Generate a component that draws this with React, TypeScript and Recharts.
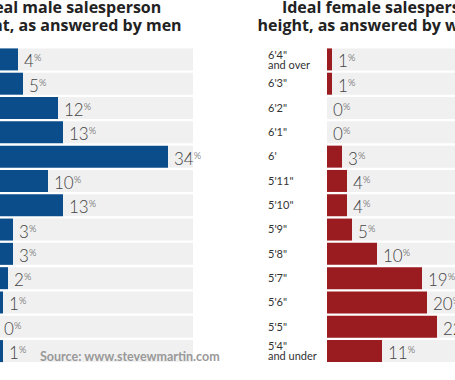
import { BarChart, Bar, XAxis, YAxis, LabelList } from 'recharts';

const maleLabels = [
  '6\'6" and over', '6\'5"', '6\'4"', '6\'3"', '6\'2"', '6\'1"', '6\'',
  '5\'11"', '5\'10"', '5\'9"', '5\'8"', '5\'7"', '5\'6" and under',
];
const maleValues = [4, 5, 12, 13, 34, 10, 13, 3, 3, 2, 1, 0, 1];

const femaleLabels = [
  '6\'4" and over', '6\'3"', '6\'2"', '6\'1"', '6\'', '5\'11"', '5\'10"',
  '5\'9"', '5\'8"', '5\'7"', '5\'6"', '5\'5"', '5\'4" and under',
];
const femaleValues = [1, 1, 0, 0, 3, 4, 4, 5, 10, 19, 20, 22, 11];

const maleTitle = ['Ideal male salesperson', 'height, as answered by men'];
const femaleTitle = ['Ideal female salesperson', 'height, as answered by women'];

const MAX = 39;
const FONT = 'Lato, sans-serif';
const TITLE_FONT = '"Open Sans", sans-serif';

// two-line labels get split on " and "
function HeightTick(props: any) {
  const { y, payload } = props;
  const text: string = payload.value;
  const idx = text.indexOf(' and ');
  if (idx >= 0) {
    return (
      <text x={1} y={y - 0.5} fill="#333" fontFamily={FONT} fontSize={11}>
        <tspan x={1}>{text.slice(0, idx)}</tspan>
        <tspan x={1} dy={10}>{text.slice(idx + 1)}</tspan>
      </text>
    );
  }
  return (
    <text x={1} y={y + 4} fill="#333" fontFamily={FONT} fontSize={11}>
      {text}
    </text>
  );
}

// label sits on the grey remainder bar, so x is where the coloured bar ends
function ValueLabel(props: any) {
  const { x, y, height, value } = props;
  return (
    <text
      x={x + 6}
      y={y + height / 2 + 8}
      fill="#444"
      fontFamily={FONT}
      fontWeight={300}
      fontSize={17}
    >
      {value}
      <tspan fontSize={9.5} dy={-6}>%</tspan>
    </text>
  );
}

interface PanelProps {
  labels: string[];
  values: number[];
  color: string;
  title: string[];
  left: number;
  titleCenter: number;
}

function Panel({ labels, values, color, title, left, titleCenter }: PanelProps) {
  const data = labels.map((label, i) => ({ label, value: values[i], rest: MAX - values[i] }));
  return (
    <div style={{ position: 'absolute', left, top: 0, width: 295, height: 380 }}>
      <div
        style={{
          position: 'absolute',
          left: titleCenter - 160,
          width: 320,
          top: -1,
          textAlign: 'center',
          fontFamily: TITLE_FONT,
          fontWeight: 700,
          fontSize: 16,
          lineHeight: '17.5px',
          color: '#222',
          whiteSpace: 'nowrap',
        }}
      >
        {title[0]}
        <br />
        {title[1]}
      </div>
      <BarChart
        width={295}
        height={380}
        data={data}
        layout="vertical"
        margin={{ top: 47, right: 40, bottom: 17, left: 0 }}
        barCategoryGap={1.4}
      >
        <XAxis type="number" domain={[0, MAX]} hide />
        <YAxis
          type="category"
          dataKey="label"
          width={60}
          axisLine={false}
          tickLine={false}
          interval={0}
          tick={<HeightTick />}
        />
        <Bar dataKey="value" stackId="a" fill={color} isAnimationActive={false} />
        <Bar dataKey="rest" stackId="a" fill="#f0f0f0" isAnimationActive={false}>
          <LabelList dataKey="value" content={ValueLabel} />
        </Bar>
      </BarChart>
    </div>
  );
}

export default function App() {
  return (
    <div
      style={{
        position: 'absolute',
        left: 0,
        top: 0,
        width: 455,
        height: 380,
        overflow: 'hidden',
        background: '#fff',
      }}
    >
      <Panel labels={maleLabels} values={maleValues} color="#0b4d8b" title={maleTitle} left={-62} titleCenter={132} />
      <Panel labels={femaleLabels} values={femaleValues} color="#9a1b20" title={femaleTitle} left={267} titleCenter={114} />
      <div
        style={{
          position: 'absolute',
          left: 40,
          top: 349,
          fontFamily: FONT,
          fontWeight: 700,
          fontSize: 12.5,
          color: '#999',
        }}
      >
        Source: www.stevewmartin.com
      </div>
    </div>
  );
}
